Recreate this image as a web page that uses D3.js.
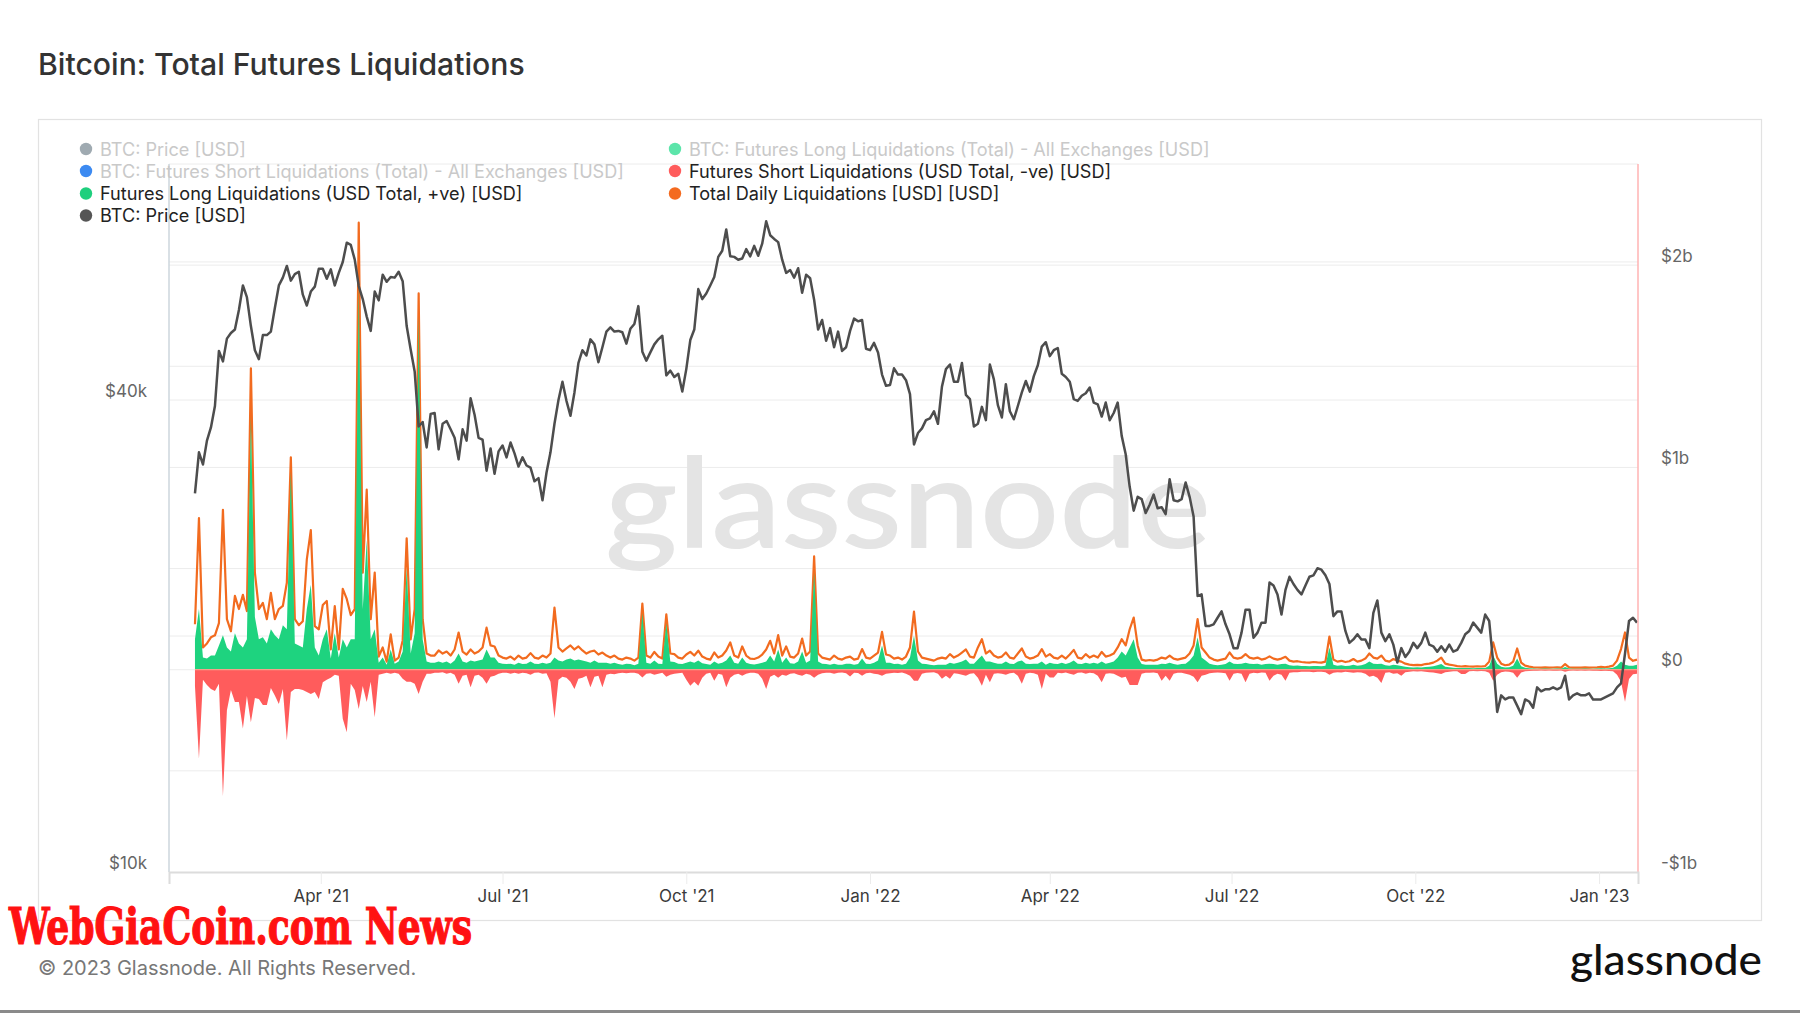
<!DOCTYPE html>
<html><head><meta charset="utf-8">
<script src="https://cdn.jsdelivr.net/npm/d3@7"></script>
<style>
body{margin:0;background:#fff;}
svg{display:block;font-family:Inter,"Noto Sans",sans-serif;}
</style>
</head><body>
<svg id="c" width="1800" height="1013"></svg>
<script>
// ---------- DATA (2-day samples, first sample 2021-01-28) ----------
const startDate = "2021-01-28";
const stepDays = 2;
// BTC price in $k
const priceK = [
30.4,34.3,33.1,
35.5,36.9,39.3,46.2,44.8,47.9,48.7,49.2,52.1,56.0,54.1,49.7,46.3,45.1,
48.4,48.4,48.9,52.4,56.0,57.3,59.3,56.8,57.9,58.3,54.5,52.8,55.0,55.8,58.8,
58.8,57.1,58.7,56.0,58.1,60.0,63.5,63.1,60.4,55.9,53.8,51.1,49.0,55.0,53.6,
57.8,56.6,57.4,57.3,58.3,56.7,49.7,46.4,43.5,37.0,37.5,34.8,38.4,38.5,34.6,37.3,
37.6,36.7,35.8,33.6,36.7,35.5,40.2,38.3,35.8,35.6,32.5,34.7,32.2,34.4,35.0,
33.8,35.3,34.2,32.9,33.8,33.0,32.8,31.5,31.8,29.8,32.3,34.3,37.3,40.0,42.2,
39.9,38.2,40.9,44.6,46.3,45.6,47.8,47.1,44.7,46.7,48.9,49.5,48.9,49.0,48.8,47.2,
49.3,50.0,52.7,46.1,44.9,46.0,47.1,47.8,48.3,43.0,43.6,42.8,43.2,41.0,43.8,
47.7,49.2,55.4,53.8,54.7,56.0,57.4,60.9,62.0,66.0,61.0,60.9,60.4,60.6,62.3,
61.0,62.9,61.1,63.3,67.6,64.9,64.2,63.6,60.4,58.1,58.6,57.3,58.9,54.8,57.8,
57.2,53.7,49.2,50.6,47.6,49.4,46.7,48.9,46.2,46.7,49.0,50.8,50.4,50.6,46.5,46.3,
47.3,46.0,43.1,41.7,41.8,43.9,43.1,43.1,42.4,40.7,35.1,36.3,36.8,37.7,37.9,
38.7,37.3,41.6,43.8,44.4,42.2,42.2,44.6,40.6,40.1,37.0,37.3,39.2,37.7,
44.4,42.5,39.4,38.0,41.9,38.7,37.8,39.3,40.9,42.3,41.0,42.9,44.3,46.8,47.4,45.5,
46.3,46.6,43.2,42.8,42.2,40.1,39.9,40.5,40.8,41.5,39.7,39.5,38.1,39.7,37.7,
38.5,39.7,36.0,34.1,31.0,28.9,30.1,29.9,28.7,29.4,30.3,29.1,29.2,28.6,31.7,
29.8,29.7,29.9,31.4,30.1,28.4,22.5,22.6,20.6,20.6,20.7,21.1,21.5,20.7,20.1,
19.3,19.3,20.2,21.6,21.6,19.9,20.2,20.8,20.8,23.4,23.2,22.6,21.3,22.9,23.8,23.3,
22.9,22.6,23.2,23.8,23.9,24.4,24.3,23.9,23.3,21.2,21.5,21.5,20.3,19.6,19.8,
20.1,19.8,19.8,19.3,21.4,22.2,20.2,19.7,20.1,19.5,18.5,19.3,18.8,19.1,19.6,
19.3,19.6,20.2,19.5,19.4,19.1,19.4,19.1,19.5,19.1,19.2,19.6,20.1,20.3,20.8,20.5,
20.2,21.3,20.9,18.5,16.0,16.8,16.6,16.7,16.7,16.3,15.9,16.6,16.5,16.2,17.2,
17.0,17.1,17.1,17.2,17.1,17.2,17.8,16.6,16.8,16.9,16.8,16.8,16.9,16.6,16.6,
16.6,16.7,16.8,16.9,17.2,17.4,19.0,20.9,21.1,20.8
];
// Futures long liquidations, $M
const longM = [
150,300,60,55,70,70,120,170,110,90,
180,130,110,150,1250,260,150,160,130,200,
170,150,220,200,980,130,120,110,300,420,
110,70,150,200,55,180,60,150,110,150,
150,1900,300,640,150,200,35,60,25,100,
30,40,90,500,80,180,1750,150,40,35,
35,40,35,40,30,45,80,40,35,45,
40,45,50,100,60,60,35,30,28,30,
25,35,28,30,40,30,28,35,30,35,
60,45,40,50,55,45,50,45,40,35,
45,35,35,35,30,35,28,25,30,28,
22,30,280,35,30,45,30,28,230,40,
38,30,28,35,40,35,45,32,28,25,
40,30,35,45,70,35,30,60,35,28,
26,30,35,40,70,40,100,35,60,32,
30,40,90,35,45,480,40,30,28,25,
30,25,25,30,30,25,28,55,30,28,
35,45,120,35,35,28,30,25,30,60,
168,45,30,28,25,22,25,25,25,35,
30,35,40,50,30,30,50,70,40,40,
35,30,30,40,30,28,40,45,30,28,
30,30,40,25,35,30,28,35,28,35,
45,30,28,35,30,35,30,40,30,35,
40,60,90,70,110,150,60,28,25,25,
24,25,30,28,35,28,25,28,30,45,
70,160,60,45,30,25,22,25,28,40,
30,28,30,35,30,28,30,25,28,30,
28,25,28,30,22,20,21,18,18,17,
18,18,17,20,110,25,20,22,18,20,
25,20,22,28,40,30,28,30,22,20,
25,22,18,15,12,11,12,11,14,15,
17,22,28,15,12,10,9,8,9,8,
7,8,8,9,20,70,30,15,11,12,
20,55,17,10,7,6,5,5,6,5,
5,6,5,14,6,5,5,5,6,5,
5,6,7,6,7,10,20,40,25,20,
20,25
];
// Futures short liquidations, $M (plotted negative)
const shortM = [
80,440,50,75,95,105,70,624,200,100,
160,160,290,130,260,140,145,175,175,90,
128,170,95,350,110,95,95,100,110,120,
110,145,62,50,40,25,30,243,309,70,
100,194,80,160,60,235,25,20,15,20,
15,20,45,60,60,70,120,60,20,20,
15,15,12,20,15,25,70,30,25,87,
30,25,40,70,35,30,20,15,15,20,
15,20,15,18,25,15,14,20,18,60,
240,50,35,40,60,95,45,40,30,87,
35,30,87,25,20,22,18,15,18,15,
15,20,38,20,18,25,20,15,35,25,
20,18,15,50,79,60,79,40,20,15,
54,20,25,87,40,25,20,30,20,15,
15,20,45,95,35,25,40,25,30,20,
18,25,30,20,25,40,25,18,15,15,
20,15,14,18,33,15,16,30,18,15,
20,22,30,20,18,15,16,14,20,30,
54,54,20,15,14,13,20,45,30,45,
18,20,25,30,20,18,40,79,25,62,
20,18,20,25,18,15,30,70,20,15,
18,25,95,20,38,38,15,18,14,20,
25,15,14,20,15,18,30,62,20,18,
20,30,40,35,75,75,75,20,15,15,
14,18,54,30,54,20,15,15,20,25,
35,62,30,25,18,15,14,15,18,54,
20,16,20,62,20,15,18,14,15,54,
30,20,25,54,15,12,12,10,10,10,
12,10,10,12,25,15,12,14,10,12,
15,12,14,20,35,30,40,66,15,12,
20,18,30,12,10,8,9,8,10,12,
14,18,21,12,10,8,7,21,21,7,
6,7,6,7,15,54,25,12,9,10,
15,40,14,8,6,5,5,4,5,4,
5,5,4,10,5,4,5,4,5,4,
5,5,6,5,6,8,25,60,158,46,
22,20
];
// Total daily liquidations, $M
const totalM = [
225,750,110,130,160,170,230,790,250,190,
365,300,370,290,1490,480,300,330,250,380,
250,300,315,430,1050,250,220,240,545,690,
215,200,320,340,100,315,100,400,350,270,
300,2210,480,890,250,480,65,110,40,175,
45,60,145,650,150,300,1860,250,80,70,
70,95,80,90,70,100,184,90,75,100,
80,90,110,208,120,115,70,60,55,65,
50,70,55,60,82,60,55,70,60,80,
307,110,90,105,120,100,115,95,80,90,
94,75,85,70,60,70,55,50,60,55,
45,60,327,70,60,88,65,55,274,80,
77,60,55,75,88,70,94,65,55,50,
85,60,70,95,135,70,60,115,70,55,
53,60,75,100,143,80,171,70,115,65,
60,80,154,70,90,560,80,60,55,50,
70,55,50,60,65,50,55,102,60,55,
70,85,187,75,70,55,60,50,65,110,
287,90,60,55,50,45,55,60,55,77,
60,70,85,100,65,60,110,151,80,94,
70,60,65,85,60,55,80,105,65,55,
60,70,102,65,77,60,55,70,55,75,
98,60,55,77,60,70,60,88,65,70,
80,110,151,120,200,258,120,50,45,48,
45,50,60,55,70,55,50,55,60,80,
120,250,110,85,60,50,45,50,55,85,
60,55,60,77,60,55,60,50,55,66,
55,50,55,64,45,40,42,38,36,35,
38,36,35,40,164,50,40,44,38,42,
53,40,45,55,80,60,55,70,45,40,
53,45,40,30,25,23,24,23,28,30,
35,45,60,30,25,22,18,16,18,16,
15,17,16,18,40,135,60,30,22,25,
40,105,35,20,15,12,11,10,12,10,
11,12,10,28,12,10,11,10,12,10,
11,12,14,12,15,20,45,102,184,60,
44,50
];
const xTickDates = ["2021-04-01","2021-07-01","2021-10-01","2022-01-01","2022-04-01","2022-07-01","2022-10-01","2023-01-01"];
const xTickLabels = ["Apr '21","Jul '21","Oct '21","Jan '22","Apr '22","Jul '22","Oct '22","Jan '23"];
const leftTickValues = [10000, 40000];
const leftTickLabels = ["$10k", "$40k"];
const leftGridValues = [20000, 40000, 60000];
const rightTickValues = [-1e9, 0, 1e9, 2e9];
const rightTickLabels = ["-$1b", "$0", "$1b", "$2b"];
const rightGridValues = [-0.5e9, 0, 0.5e9, 1e9, 1.5e9, 2e9, 2.5e9];
const legendItems = [
  {label:"BTC: Price [USD]", color:"#8e9ba3", on:false, col:0, row:0},
  {label:"BTC: Futures Short Liquidations (Total) - All Exchanges [USD]", color:"#1a75ef", on:false, col:0, row:1},
  {label:"Futures Long Liquidations (USD Total, +ve) [USD]", color:"#1ecf7d", on:true, col:0, row:2},
  {label:"BTC: Price [USD]", color:"#555555", on:true, col:0, row:3},
  {label:"BTC: Futures Long Liquidations (Total) - All Exchanges [USD]", color:"#3fe09b", on:false, col:1, row:0},
  {label:"Futures Short Liquidations (USD Total, -ve) [USD]", color:"#ff5c5c", on:true, col:1, row:1},
  {label:"Total Daily Liquidations [USD] [USD]", color:"#f46a1f", on:true, col:1, row:2}
];

// ---------- LAYOUT ----------
const W = 1800, H = 1013;
const P = {left:169, right:1638, top:164, bottom:872};
const svg = d3.select("#c");
const parse = d3.utcParse("%Y-%m-%d");
const t0 = parse(startDate);
const dates = priceK.map((_, i) => d3.utcDay.offset(t0, i * stepDays));

const x = d3.scaleUtc()
  .domain([Date.UTC(2021,0,15), Date.UTC(2023,0,20,12)])
  .range([P.left, P.right]);
const yP = d3.scaleLog().domain([10000, 80000]).range([P.bottom, P.top]);
const yL = d3.scaleLinear().domain([-1e9, 2.5e9]).range([P.bottom, P.top]);

// outer frame
svg.append("rect").attr("x",38.5).attr("y",119.5).attr("width",1723).attr("height",801)
  .attr("fill","none").attr("stroke","#e2e2e2").attr("stroke-width",1.2);

// gridlines
const grid = svg.append("g");
rightGridValues.forEach(v => grid.append("line")
  .attr("x1",P.left).attr("x2",P.right).attr("y1",yL(v)).attr("y2",yL(v))
  .attr("stroke","#ececec").attr("stroke-width",1));
leftGridValues.forEach(v => grid.append("line")
  .attr("x1",P.left).attr("x2",P.right).attr("y1",yP(v)).attr("y2",yP(v))
  .attr("stroke","#ececec").attr("stroke-width",1));

// watermark
svg.append("text").attr("x",605).attr("y",548).text("glassnode")
  .attr("font-family","Lato, 'Noto Sans', sans-serif").attr("font-size",126).attr("font-weight",600)
  .attr("textLength",606).attr("lengthAdjust","spacingAndGlyphs")
  .attr("fill","#e4e4e4");

const data = dates.map((d, i) => ({d, p: priceK[i]*1000, l: longM[i]*1e6, s: shortM[i]*1e6, t: totalM[i]*1e6}));

// total (orange line)
svg.append("path").datum(data)
  .attr("d", d3.line().x(d => x(d.d)).y(d => yL(d.t)))
  .attr("fill","none").attr("stroke","#f26b1f").attr("stroke-width",2.2).attr("stroke-linejoin","round");
// long (green area)
svg.append("path").datum(data)
  .attr("d", d3.area().x(d => x(d.d)).y0(yL(0)).y1(d => yL(d.l)))
  .attr("fill","#1ed37f");
// short (red area, negative)
svg.append("path").datum(data)
  .attr("d", d3.area().x(d => x(d.d)).y0(yL(0)).y1(d => yL(-d.s)))
  .attr("fill","#ff5c5c");
// zero line tint
svg.append("line").attr("x1",x(dates[0])).attr("x2",x(dates[dates.length-1]))
  .attr("y1",yL(0)).attr("y2",yL(0)).attr("stroke","#f7a08a").attr("stroke-width",1.2);
// price
svg.append("path").datum(data)
  .attr("d", d3.line().x(d => x(d.d)).y(d => yP(d.p)))
  .attr("fill","none").attr("stroke","#4d4d4d").attr("stroke-width",2.5).attr("stroke-linejoin","round");

// axis lines
svg.append("line").attr("x1",P.left).attr("x2",P.left).attr("y1",P.top).attr("y2",P.bottom)
  .attr("stroke","#ccd6dd").attr("stroke-width",1.5);
svg.append("line").attr("x1",P.right).attr("x2",P.right).attr("y1",P.top).attr("y2",P.bottom)
  .attr("stroke","#ffb3b3").attr("stroke-width",1.5);

// x axis
const xAxis = d3.axisBottom(x)
  .tickValues(xTickDates.map(parse))
  .tickFormat((d, i) => xTickLabels[i])
  .tickSize(12).tickPadding(6);
const gx = svg.append("g").attr("transform",`translate(0,${P.bottom})`).call(xAxis);
gx.select(".domain").attr("stroke","#dcdcdc").attr("stroke-width",2);
gx.selectAll(".tick line").attr("stroke","#ececec");
gx.selectAll(".tick text").attr("font-size",17).attr("fill","#3a3a3a").attr("font-family","Inter, sans-serif");

// left axis
const yAxisL = d3.axisLeft(yP).tickValues(leftTickValues)
  .tickFormat((d, i) => leftTickLabels[i]).tickSize(0).tickPadding(22);
const gl = svg.append("g").attr("transform",`translate(${P.left},0)`).call(yAxisL);
gl.select(".domain").remove();
gl.selectAll(".tick text").attr("font-size",17).attr("fill","#666").attr("dy","-0.22em").attr("font-family","Inter, sans-serif");

// right axis
const yAxisR = d3.axisRight(yL).tickValues(rightTickValues)
  .tickFormat((d, i) => rightTickLabels[i]).tickSize(0).tickPadding(23);
const gr = svg.append("g").attr("transform",`translate(${P.right},0)`).call(yAxisR);
gr.select(".domain").remove();
gr.selectAll(".tick text").attr("font-size",17).attr("fill","#666").attr("dy","-0.22em").attr("font-family","Inter, sans-serif");

// legend
const colX = [86, 675], rowY = [149, 171, 193.5, 215.5];
const lg = svg.append("g");
legendItems.forEach(it => {
  const cx = colX[it.col], cy = rowY[it.row];
  lg.append("circle").attr("cx",cx).attr("cy",cy).attr("r",6.2).attr("fill",it.color)
    .attr("opacity", it.on ? 1 : 0.85);
  lg.append("text").attr("x",cx+14).attr("y",cy+6.5).text(it.label)
    .attr("font-size",18.1).attr("fill", it.on ? "#222" : "#c9c9c9");
});

// title
svg.append("text").attr("x",38).attr("y",75).text("Bitcoin: Total Futures Liquidations")
  .attr("font-size",30.2).attr("font-weight",500).attr("fill","#333");

// footer
svg.append("text").attr("x",38).attr("y",975).text("© 2023 Glassnode. All Rights Reserved.")
  .attr("font-size",20).attr("fill","#777");
svg.append("text").attr("x",1570).attr("y",975).text("glassnode")
  .attr("font-family","Lato, 'Noto Sans', sans-serif").attr("font-size",42).attr("font-weight",500)
  .attr("textLength",192).attr("lengthAdjust","spacingAndGlyphs").attr("fill","#111");
svg.append("text").attr("x",9).attr("y",944).text("WebGiaCoin.com News")
  .attr("font-family","'DejaVu Serif Condensed','DejaVu Serif',serif").attr("font-weight",700)
  .attr("font-size",50).attr("textLength",463).attr("lengthAdjust","spacingAndGlyphs")
  .attr("fill","#ff1212").attr("stroke","#ff1212").attr("stroke-width",1.2);
svg.append("rect").attr("x",0).attr("y",1010).attr("width",W).attr("height",3).attr("fill","#8a8a8a");
</script>
</body></html>
